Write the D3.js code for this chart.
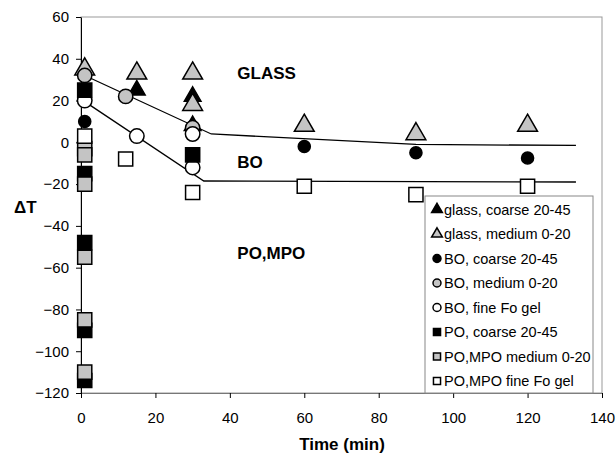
<!DOCTYPE html>
<meta charset="utf-8">
<script src="https://d3js.org/d3.v7.min.js"></script>
<style>
body { margin: 0; background: #fff; }
text { font-family: "Liberation Sans", Arial, sans-serif; fill: #000; }
.tick text { font-size: 15px; }
.lbl { font-size: 17px; font-weight: bold; }
.legend text { font-size: 14.5px; }
</style>
<body>
<script>
// values: [time (min), deltaT]
var glassCoarse = [[15, 25], [30, 22], [30, 8]];
var glassMedium = [[1, 35], [15, 33], [30, 33], [30, 18], [60, 8], [90, 4], [120, 8]];
var boCoarse = [[1, 10], [60, -2], [90, -5], [120, -7.5]];
var boMedium = [[1, 32], [12, 22], [30, 7]];
var boFine = [[1, 20], [15, 3], [30, 4], [30, -12]];
var poCoarse = [[1, 25], [1, -15], [1, -48], [1, -90], [1, -114], [30, -6]];
var poMedium = [[1, -3], [1, -6], [1, -20], [1, -55], [1, -85], [1, -110]];
var poFine = [[1, 3], [12, -8], [30, -24], [60, -21], [90, -25], [120, -21]];

var upperLine = [[1, 32], [35, 4], [90, -1], [133, -1.5]];
var lowerLine = [[1, 19.5], [33, -18.5], [133, -19]];

var xTicks = [0, 20, 40, 60, 80, 100, 120, 140];
var yTicks = [60, 40, 20, 0, -20, -40, -60, -80, -100, -120];

var regionLabels = [["GLASS", 30.5], ["BO", -12.5], ["PO,MPO", -56]];

var legendNames = ["glass, coarse 20-45", "glass, medium 0-20", "BO, coarse 20-45",
  "BO, medium 0-20", "BO, fine Fo gel", "PO, coarse 20-45", "PO,MPO medium 0-20", "PO,MPO fine Fo gel"];

var width = 616, height = 455;
var m = {left: 81, top: 17, right: 14, bottom: 62};

var x = d3.scaleLinear().domain([0, 140]).range([m.left, width - m.right]);
var y = d3.scaleLinear().domain([-120, 60]).range([height - m.bottom, m.top]);

var gray = "#c4c4c4";
// marker styles per series, same order as legend
var styles = [
  {data: glassCoarse, shape: "tri", fill: "#000", size: 120},
  {data: glassMedium, shape: "tri", fill: gray, size: 170},
  {data: boCoarse, shape: "circ", fill: "#000", size: 115},
  {data: boMedium, shape: "circ", fill: gray, size: 160},
  {data: boFine, shape: "circ", fill: "#fff", size: 165},
  {data: poCoarse, shape: "sq", fill: "#000", size: 200},
  {data: poMedium, shape: "sq", fill: gray, size: 200},
  {data: poFine, shape: "sq", fill: "#fff", size: 200}
];
var symType = {tri: d3.symbolTriangle, circ: d3.symbolCircle, sq: d3.symbolSquare};

var svg = d3.select("body").append("svg")
    .attr("width", width)
    .attr("height", height);

// frame
svg.append("rect")
    .attr("x", x(0)).attr("y", y(60))
    .attr("width", x(140) - x(0)).attr("height", y(-120) - y(60))
    .attr("fill", "none").attr("stroke", "#999").attr("stroke-width", 1);

var xAxis = svg.append("g")
    .attr("transform", "translate(0," + y(-120) + ")")
    .call(d3.axisBottom(x).tickValues(xTicks).tickSize(5).tickSizeOuter(0));
xAxis.select(".domain").attr("stroke", "#777");
xAxis.selectAll(".tick text").attr("y", 30).attr("dy", 0);

var yAxis = svg.append("g")
    .attr("transform", "translate(" + x(0) + ",0)")
    .call(d3.axisLeft(y).tickValues(yTicks).tickSize(5).tickSizeOuter(0));
yAxis.selectAll(".tick text").attr("x", -12);

// trend lines
var line = d3.line().x(function(d) { return x(d[0]); }).y(function(d) { return y(d[1]); });
[upperLine, lowerLine].forEach(function(l) {
  svg.append("path").attr("d", line(l))
     .attr("fill", "none").attr("stroke", "#000").attr("stroke-width", 1.3);
});

// markers
styles.forEach(function(s) {
  svg.append("g").selectAll("path")
    .data(s.data)
    .enter()
    .append("path")
    .attr("transform", function(d) { return "translate(" + x(d[0]) + "," + y(d[1]) + ")"; })
    .attr("d", d3.symbol().type(symType[s.shape]).size(s.size))
    .attr("fill", s.fill)
    .attr("stroke", "#000")
    .attr("stroke-width", 1.5);
});

// region labels
svg.selectAll("text.region")
  .data(regionLabels)
  .enter()
  .append("text")
  .attr("class", "lbl")
  .attr("x", x(42))
  .attr("y", function(d) { return y(d[1]); })
  .text(function(d) { return d[0]; });

svg.append("text").attr("class", "lbl")
    .attr("x", 14).attr("y", 213).text("\u0394T");
svg.append("text").attr("class", "lbl")
    .attr("x", 342).attr("y", 450)
    .attr("text-anchor", "middle").text("Time (min)");

// legend
var lg = svg.append("g").attr("class", "legend");
lg.append("rect")
    .attr("x", 425).attr("y", 196).attr("width", 168).attr("height", 197)
    .attr("fill", "#fff").attr("stroke", "#888");
var items = lg.selectAll("g.item")
    .data(legendNames)
    .enter()
    .append("g")
    .attr("transform", function(d, i) { return "translate(437," + (209.5 + i * 24.5) + ")"; });
items.append("path")
    .attr("d", function(d, i) { return d3.symbol().type(symType[styles[i].shape]).size(50)(); })
    .attr("fill", function(d, i) { return styles[i].fill; })
    .attr("stroke", "#000").attr("stroke-width", 1.5);
items.append("text")
    .attr("x", 7).attr("y", 5)
    .text(function(d) { return d; });
</script>
</body>
